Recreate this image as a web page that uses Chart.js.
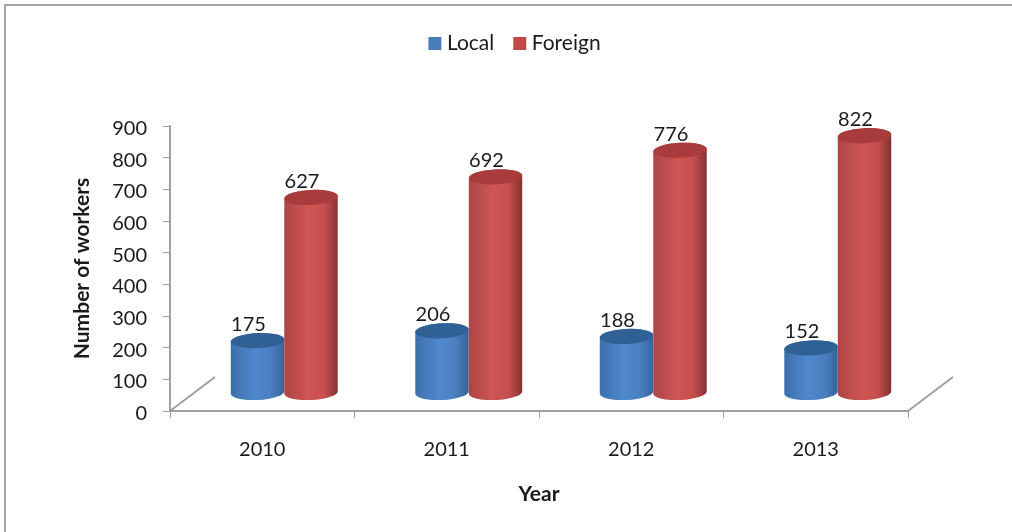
<!DOCTYPE html>
<html>
<head>
<meta charset="utf-8">
<style>
  html, body { margin: 0; padding: 0; background: #fff; }
  #wrap { position: absolute; left: 0; top: 0; width: 1012px; height: 532px; }
  #frame { position: absolute; left: 4px; top: 4px; right: 0; bottom: 0; border-left: 2px solid #a6a6a6; border-top: 2px solid #a6a6a6; }
  canvas { position: absolute; left: 0; top: 0; }
</style>
</head>
<body>
<div id="wrap">
  <div id="frame"></div>
  <canvas id="myChart" width="1012" height="532"></canvas>
</div>
<script src="https://cdn.jsdelivr.net/npm/chart.js@4"></script>
<script>
const years = ['2010', '2011', '2012', '2013'];
const localWorkers = [175, 206, 188, 152];
const foreignWorkers = [627, 692, 776, 822];
const yTicks = [0, 100, 200, 300, 400, 500, 600, 700, 800, 900];

const FONT = 'Lato, "Open Sans", sans-serif';
const TEXT = '#1a1a1a';
const AXIS = '#a0a0a0';

// depth of the fake 3d floor
const DEPTH_X = 45, DEPTH_Y = -34;
// cylinders stand halfway back on the floor
const SHIFT_X = 22, SHIFT_TOP = -15, SHIFT_BASE = -18;

const shades = [
    { stops: ['#3d70aa', '#5088ce', '#4a7fc0', '#36649a'], top: '#2f6194' },
    { stops: ['#ad4545', '#cf5555', '#c64e4e', '#843131'], top: '#a83b3b' }
];

function cylinder(c, x, top, base, w, shade) {
    const rx = w / 2, ry = 7.5, tilt = -0.05;
    const g = c.createLinearGradient(x - rx, 0, x + rx, 0);
    g.addColorStop(0, shade.stops[0]);
    g.addColorStop(0.45, shade.stops[1]);
    g.addColorStop(0.75, shade.stops[2]);
    g.addColorStop(1, shade.stops[3]);
    c.fillStyle = g;
    c.beginPath();
    c.ellipse(x, base, rx, ry, tilt, Math.PI, 0, true);
    c.ellipse(x, top, rx, ry, tilt, 0, Math.PI, true);
    c.closePath();
    c.fill();
    c.fillStyle = shade.top;
    c.beginPath();
    c.ellipse(x, top, rx, ry, tilt, 0, Math.PI * 2);
    c.fill();
}

const floorLines = {
    id: 'floorLines',
    beforeDatasetsDraw(chart) {
        const c = chart.ctx, x = chart.scales.x, y = chart.scales.y;
        const y0 = y.getPixelForValue(0);
        c.save();
        c.strokeStyle = '#999999';
        c.lineWidth = 1.6;
        [x.left, x.right].forEach(px => {
            c.beginPath();
            c.moveTo(px, y0);
            c.lineTo(px + DEPTH_X, y0 + DEPTH_Y);
            c.stroke();
        });
        c.restore();
    }
};

const cylinders = {
    id: 'cylinders',
    beforeDatasetsDraw(chart) {
        const c = chart.ctx;
        c.save();
        years.forEach((_, i) => {
            chart.data.datasets.forEach((ds, d) => {
                const bar = chart.getDatasetMeta(d).data[i];
                cylinder(c, bar.x + SHIFT_X, bar.y + SHIFT_TOP, bar.base + SHIFT_BASE, bar.width, shades[d]);
            });
        });
        // value labels
        c.fillStyle = TEXT;
        c.font = '20px ' + FONT;
        c.textAlign = 'center';
        c.textBaseline = 'middle';
        chart.data.datasets.forEach((ds, d) => {
            chart.getDatasetMeta(d).data.forEach((bar, i) => {
                c.fillText(ds.data[i], bar.x + SHIFT_X - 9, bar.y - 31);
            });
        });
        c.restore();
        return false; // flat bars are not drawn
    }
};

const legendPlace = {
    id: 'legendPlace',
    beforeLayout(chart) {
        const legend = chart.legend;
        if (!legend._baseFit) {
            legend._baseFit = legend.fit;
            legend.fit = function () {
                this._baseFit();
                this.height = 117;
            };
        }
    },
    afterLayout(chart) {
        const d = 517 - (chart.legend.left + chart.legend.right) / 2;
        chart.legend.left += d;
        chart.legend.right += d;
    }
};

const ctx = document.getElementById('myChart').getContext('2d');
const myChart = new Chart(ctx, {
    type: 'bar',
    data: {
        labels: years,
        datasets: [
            // small box + thick border: legend gap to the text is tied to the font size otherwise
            { label: 'Local', data: localWorkers, backgroundColor: '#4a7ebb', borderColor: '#4a7ebb', borderWidth: 10, categoryPercentage: 0.58, barPercentage: 1 },
            { label: 'Foreign', data: foreignWorkers, backgroundColor: '#be4b48', borderColor: '#be4b48', borderWidth: 10, categoryPercentage: 0.58, barPercentage: 1 }
        ]
    },
    plugins: [legendPlace, floorLines, cylinders],
    options: {
        responsive: false,
        animation: false,
        layout: { padding: { left: 70, right: 104, top: 9, bottom: 25 } },
        plugins: {
            tooltip: { enabled: false },
            legend: {
                position: 'top',
                labels: { color: TEXT, boxWidth: 3, boxHeight: 3, padding: 24, font: { family: FONT, size: 21 } }
            }
        },
        scales: {
            x: {
                afterFit(s) { s.height = 96; },
                grid: { drawOnChartArea: false, color: AXIS, tickLength: 7, offset: true },
                border: { color: AXIS, width: 2 },
                ticks: { color: TEXT, padding: 20, maxRotation: 0, font: { family: FONT, size: 20 } },
                title: { display: true, text: 'Year', color: TEXT, padding: 0, font: { family: FONT, size: 21, weight: 'bold' } }
            },
            y: {
                min: 0,
                max: 900,
                afterFit(s) { s.width = 100; },
                afterBuildTicks(s) { s.ticks = yTicks.map(v => ({ value: v })); },
                grid: { drawOnChartArea: false, color: AXIS, tickLength: 7 },
                border: { color: AXIS, width: 2 },
                ticks: { color: TEXT, padding: 16, labelOffset: 2.5, font: { family: FONT, size: 20 } },
                title: { display: true, text: 'Number of workers', color: TEXT, padding: 0, font: { family: FONT, size: 21, weight: 'bold' } }
            }
        }
    }
});
</script>
</body>
</html>
